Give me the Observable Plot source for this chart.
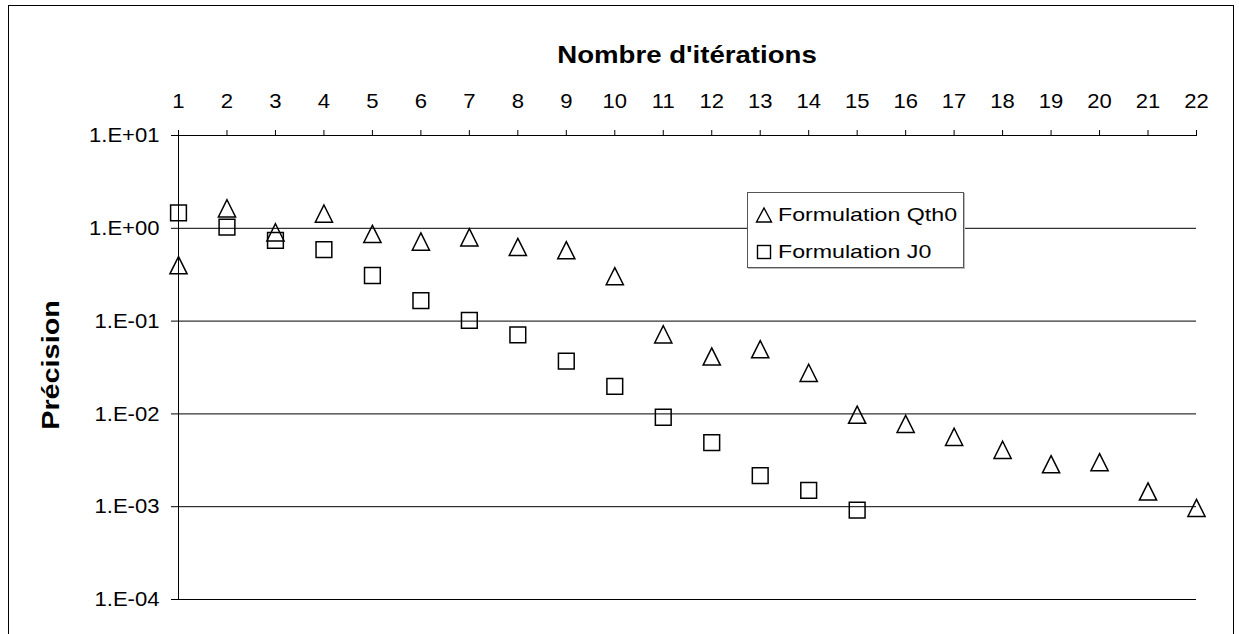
<!DOCTYPE html>
<html>
<head>
<meta charset="utf-8">
<script src="https://cdn.jsdelivr.net/npm/d3@7"></script>
<script src="https://cdn.jsdelivr.net/npm/@observablehq/plot@0.6"></script>
<style>
  body { margin: 0; background: #fff; overflow: hidden; }
  #wrap { position: relative; width: 1239px; height: 634px; font-family: Arial, "Liberation Sans", sans-serif; color: #000; }
  #wrap svg.plot { position: absolute; left: 0; top: 0; }
  #border { position: absolute; left: 8px; top: 5px; width: 1226px; height: 700px; border: 1px solid #000; box-sizing: border-box; }
  .title { position: absolute; font-weight: bold; white-space: nowrap; line-height: 1; }
  #xtitle { left: 687px; top: 55px; font-size: 23px; transform: translate(-50%, -50%) scaleX(1.2); }
  #ytitle { left: 51px; top: 365px; font-size: 24px; transform: translate(-50%, -50%) rotate(-90deg) scaleX(1.2); }
  #legend { position: absolute; left: 747px; top: 192px; width: 217px; height: 76px; box-sizing: border-box;
            border: 1px solid #555; background: #fff; box-shadow: 1px 1px 0 #bbb; }
  .lrow { position: absolute; left: 8px; height: 20px; display: flex; align-items: center; }
  .lrow svg { width: 16px; height: 16px; margin-right: 6px; overflow: visible; }
  .lrow span { font-size: 19px; white-space: nowrap; display: inline-block; transform: scaleX(1.22); transform-origin: left center; }
</style>
</head>
<body>
<div id="wrap"></div>
<script>
// ---- data ----
const iterations = [1,2,3,4,5,6,7,8,9,10,11,12,13,14,15,16,17,18,19,20,21,22];
const qth0 = [0.40, 1.64, 0.905, 1.44, 0.87, 0.72, 0.80, 0.63, 0.58, 0.305, 0.072, 0.0416, 0.0498, 0.0277,
              0.0098, 0.0078, 0.00566, 0.0041, 0.00287, 0.00302, 0.00146, 0.00097];
const j0 = [1.47, 1.03, 0.74, 0.59, 0.31, 0.166, 0.102, 0.071, 0.037, 0.0198, 0.0092, 0.0049, 0.00216, 0.0015, 0.00092];
const yTicks = [10, 1, 0.1, 0.01, 0.001, 0.0001];
const yTickLabels = ["1.E+01", "1.E+00", "1.E-01", "1.E-02", "1.E-03", "1.E-04"];
const seriesNames = ["Formulation Qth0", "Formulation J0"];
const xTitle = "Nombre d'itérations";
const yTitle = "Précision";

const qthData = qth0.map((v, i) => ({it: iterations[i], v}));
const j0Data = j0.map((v, i) => ({it: iterations[i], v}));

// centred open triangle (bbox centred on the point)
const triSym = {
  draw(ctx, size) {
    const h = Math.sqrt(size) / 2;
    ctx.moveTo(0, -h); ctx.lineTo(h, h); ctx.lineTo(-h, h); ctx.closePath();
  }
};

const chart = Plot.plot({
  width: 1239,
  height: 634,
  marginLeft: 178,
  marginRight: 43,
  marginTop: 135,
  marginBottom: 35,
  style: { fontFamily: "Arial, 'Liberation Sans', sans-serif", fontSize: "21px", color: "#000", background: "transparent" },
  x: { domain: [1, 22] },
  y: { type: "log", domain: [0.0001, 10] },
  marks: [
    Plot.ruleY(yTicks, { stroke: "#000", strokeWidth: 1 }),
    Plot.ruleX([1], { stroke: "#000", strokeWidth: 1 }),
    Plot.axisX({ anchor: "top", ticks: iterations, tickSize: 6, tickPadding: 22, tickFormat: d => String(d), label: null, fontSize: 21 }),
    Plot.axisY({ anchor: "left", ticks: yTicks, tickSize: 7, tickPadding: 12,
                 tickFormat: d => yTickLabels[yTicks.indexOf(d)], label: null, fontSize: 21 }),
    Plot.dot(qthData, { x: "it", y: "v", symbol: triSym, r: 9.7, fill: "none", stroke: "#000", strokeWidth: 1.5 }),
    Plot.dot(j0Data, { x: "it", y: "v", symbol: "square", r: 8.9, fill: "none", stroke: "#000", strokeWidth: 1.5 })
  ]
});
chart.classList.add("plot");

const wrap = document.getElementById("wrap");
const border = document.createElement("div"); border.id = "border";
wrap.appendChild(border);
wrap.appendChild(chart);

// slightly widen the tick text to match the rendering in the reference
chart.querySelectorAll("text").forEach(t => {
  const L = t.getComputedTextLength();
  if (L > 0) { t.setAttribute("textLength", (L * 1.05).toFixed(1)); t.setAttribute("lengthAdjust", "spacingAndGlyphs"); }
});

const xt = document.createElement("div"); xt.id = "xtitle"; xt.className = "title"; xt.textContent = xTitle; wrap.appendChild(xt);
const yt = document.createElement("div"); yt.id = "ytitle"; yt.className = "title"; yt.textContent = yTitle; wrap.appendChild(yt);

// legend
const legend = document.createElement("div"); legend.id = "legend";
const symbols = [
  '<svg viewBox="-8 -8 16 16"><path d="M0,-7L7.5,7L-7.5,7Z" fill="none" stroke="#000" stroke-width="1.4"/></svg>',
  '<svg viewBox="-8 -8 16 16"><rect x="-6.5" y="-6.5" width="13" height="13" fill="none" stroke="#000" stroke-width="1.4"/></svg>'
];
const rowTops = [12, 49];
seriesNames.forEach((name, i) => {
  const row = document.createElement("div");
  row.className = "lrow";
  row.style.top = rowTops[i] + "px";
  row.innerHTML = symbols[i] + "<span></span>";
  row.querySelector("span").textContent = name;
  legend.appendChild(row);
});
wrap.appendChild(legend);
</script>
</body>
</html>
